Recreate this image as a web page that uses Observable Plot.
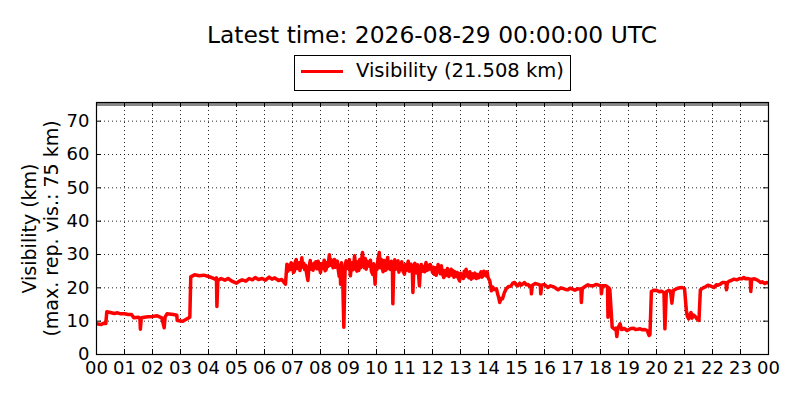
<!DOCTYPE html>
<html>
<head>
<meta charset="utf-8">
<script src="https://cdn.jsdelivr.net/npm/d3@7"></script>
<script src="https://cdn.jsdelivr.net/npm/@observablehq/plot@0.6"></script>
<style>
  html, body { margin: 0; padding: 0; background: #fff; }
  #wrap { position: relative; width: 800px; height: 400px; font-family: "DejaVu Sans", sans-serif; }
  #title { position: absolute; left: 96px; width: 672px; top: 21px; text-align: center; font-size: 23.4px; line-height: 28px; color: #000; white-space: nowrap; }
  #legend { position: absolute; left: 294px; top: 55px; width: 277px; height: 36px; box-sizing: border-box; border: 1px solid #000; background: #fff; }
  #legend .swatch { position: absolute; left: 6px; top: 13.5px; width: 42px; height: 3px; background: #ff0000; }
  #legend .lbl { position: absolute; left: 61px; top: 5px; font-size: 19.5px; line-height: 20px; white-space: nowrap; color: #000; }
  #chart { position: absolute; left: 0; top: 0; }
</style>
</head>
<body>
<div id="wrap">
  <div id="chart"></div>
  <div id="title"></div>
  <div id="legend"><span class="swatch"></span><span class="lbl"></span></div>
</div>
<script>
const titleText = "Latest time: 2026-08-29 00:00:00 UTC";
const seriesName = "Visibility (21.508 km)";
const yLabelLines = ["Visibility (km)", "(max. rep. vis.: 75 km)"];
const yTicks = [0, 10, 20, 30, 40, 50, 60, 70];
const maxReportedVis = 75;

const times = [
"00:00","00:10","00:15","00:20","00:22","00:30","00:38","00:45","00:52","01:00",
"01:08","01:15","01:20","01:30","01:33","01:34","01:36","01:50","02:00","02:10",
"02:20","02:25","02:27","02:31","02:45","02:52","02:53","03:05","03:15","03:20",
"03:22","03:30","03:40","03:50","04:00","04:08","04:14","04:17","04:18","04:20",
"04:27","04:35","04:42","04:50","05:00","05:06","05:12","05:20","05:27","05:34",
"05:40","05:47","05:55","06:02","06:10","06:16","06:22","06:30","06:37","06:42",
"06:45","06:48","06:50","06:52","06:55","06:57","07:00","07:02","07:04","07:06",
"07:08","07:10","07:12","07:14","07:16","07:18","07:20","07:22","07:24","07:26",
"07:28","07:30","07:33","07:35","07:36","07:38","07:40","07:42","07:44","07:46",
"07:48","07:50","07:52","07:55","07:57","08:00","08:02","08:04","08:06","08:08",
"08:10","08:12","08:14","08:16","08:19","08:21","08:23","08:25","08:27","08:30",
"08:32","08:34","08:36","08:38","08:40","08:42","08:43","08:45","08:48","08:50",
"08:52","08:53","08:55","08:57","09:00","09:02","09:04","09:06","09:08","09:10",
"09:13","09:15","09:18","09:20","09:22","09:24","09:26","09:28","09:30","09:32",
"09:34","09:36","09:38","09:40","09:42","09:45","09:47","09:49","09:52","09:54",
"09:57","09:59","10:01","10:03","10:06","10:08","10:10","10:12","10:14","10:16",
"10:18","10:20","10:22","10:24","10:26","10:28","10:30","10:32","10:34","10:35",
"10:37","10:39","10:41","10:43","10:46","10:48","10:50","10:52","10:54","10:57",
"11:00","11:02","11:04","11:06","11:08","11:10","11:12","11:14","11:16","11:17",
"11:18","11:20","11:22","11:24","11:26","11:28","11:30","11:32","11:34","11:36",
"11:38","11:40","11:43","11:46","11:48","11:50","11:52","11:55","11:58","12:00",
"12:02","12:04","12:06","12:08","12:10","12:12","12:15","12:17","12:19","12:21",
"12:24","12:26","12:28","12:30","12:32","12:35","12:37","12:40","12:42","12:44",
"12:46","12:48","12:50","12:53","12:55","12:58","13:00","13:02","13:04","13:06",
"13:08","13:10","13:12","13:14","13:16","13:18","13:20","13:23","13:26","13:28",
"13:31","13:34","13:37","13:39","13:41","13:44","13:46","13:48","13:50","13:52",
"13:55","13:57","13:59","14:03","14:06","14:09","14:12","14:17","14:20","14:22",
"14:24","14:27","14:30","14:34","14:38","14:43","14:48","14:52","14:56","15:00",
"15:03","15:07","15:10","15:14","15:17","15:21","15:25","15:28","15:31","15:32",
"15:34","15:40","15:45","15:51","15:52","15:54","16:00","16:07","16:13","16:20",
"16:25","16:29","16:35","16:40","16:45","16:50","16:55","17:00","17:05","17:11",
"17:18","17:19","17:21","17:27","17:33","17:39","17:45","17:50","17:54","18:01",
"18:02","18:04","18:12","18:15","18:16","18:18","18:20","18:25","18:30","18:33",
"18:35","18:37","18:42","18:45","18:51","18:57","19:05","19:11","19:15","19:20",
"19:25","19:30","19:35","19:40","19:44","19:46","19:49","19:55","20:01","20:06",
"20:10","20:16","20:18","20:21","20:26","20:30","20:33","20:36","20:41","20:46",
"20:50","20:55","21:00","21:04","21:06","21:09","21:12","21:14","21:16","21:20",
"21:23","21:27","21:31","21:34","21:40","21:45","21:50","21:55","22:03","22:08",
"22:12","22:17","22:21","22:25","22:29","22:30","22:32","22:36","22:40","22:46",
"22:52","22:58","23:03","23:07","23:11","23:15","23:21","23:22","23:24","23:30",
"23:35","23:40","23:43","23:47","23:52","23:56","24:00"
];
const values = [
9.2,9.0,9.4,9.3,12.8,12.6,12.3,12.5,12.2,12.2,
12.0,12.0,11.0,11.2,10.8,7.6,11.0,11.3,11.4,11.6,
11.0,8.0,11.2,12.2,12.0,11.8,10.2,10.0,10.8,11.2,
23.3,23.9,23.6,23.8,23.4,23.0,22.6,23.0,14.4,22.2,
22.8,22.3,22.8,22.0,21.4,22.0,22.4,22.0,22.8,22.4,
23.1,22.5,22.8,22.3,23.2,22.6,23.0,22.2,22.5,21.6,
21.1,27.1,25.0,26.8,25.5,27.5,27.0,24.6,25.0,27.8,
28.5,25.8,26.0,27.5,25.2,27.0,29.0,26.2,27.4,25.5,
26.8,24.5,22.2,25.8,26.5,28.2,25.6,27.0,25.3,27.4,
26.1,27.8,25.7,28.0,26.3,24.6,27.2,25.8,27.0,28.3,
25.1,25.5,27.6,26.4,29.9,26.8,28.4,27.5,26.0,28.5,
26.2,27.1,28.0,25.5,23.5,26.8,21.1,27.5,20.0,8.2,
22.0,27.0,28.1,25.8,26.5,28.4,23.6,26.2,27.5,25.4,
29.6,26.8,25.0,27.8,25.2,28.5,26.0,28.2,30.6,27.5,
26.0,28.8,25.6,28.0,26.5,26.6,28.3,25.0,24.0,27.2,
21.1,26.8,25.5,28.4,30.6,26.0,28.6,26.5,24.8,28.2,
27.5,25.3,27.9,29.1,25.8,27.6,25.5,28.0,27.0,15.2,
26.0,28.4,25.6,27.8,28.1,24.7,27.3,25.5,27.8,25.0,
24.1,27.0,25.3,26.5,28.0,25.0,26.8,27.1,25.5,24.0,
18.6,25.5,27.4,24.6,24.5,26.9,24.2,20.6,25.4,27.0,
25.0,26.4,24.8,27.6,25.2,26.8,25.5,27.0,26.0,24.6,
26.2,24.1,26.0,23.8,25.0,27.0,25.6,24.2,26.6,24.5,
23.1,25.2,23.6,24.5,25.8,23.4,24.0,25.6,23.8,25.1,
23.2,24.8,23.5,24.6,23.0,22.1,24.4,23.2,24.0,22.8,
25.0,23.4,25.6,23.6,24.5,23.0,24.8,22.6,24.2,23.0,
24.4,22.8,24.0,23.0,23.6,24.8,23.2,23.5,25.0,24.6,
23.6,24.8,23.1,22.0,19.1,20.2,19.5,19.7,18.0,17.0,
15.6,16.8,16.7,18.5,19.7,20.4,20.5,21.4,21.6,20.8,
20.6,21.4,20.8,21.2,21.6,20.9,21.0,20.4,20.6,18.2,
20.8,21.3,21.1,20.8,18.2,20.8,21.0,20.1,20.6,20.3,
19.8,19.4,20.0,19.8,19.5,19.4,19.9,19.6,19.3,19.7,
19.6,15.6,19.8,20.4,20.9,20.6,20.6,21.0,20.9,20.6,
18.2,20.6,20.6,20.3,11.2,20.0,19.5,8.2,7.6,7.9,
5.4,7.8,9.2,7.5,7.8,7.2,7.8,7.9,7.5,7.6,
7.7,7.4,7.5,7.2,5.7,6.0,18.9,19.3,19.2,18.8,
19.0,18.6,7.7,18.8,19.2,19.0,15.4,19.2,19.6,19.9,
20.0,20.1,19.8,13.2,11.5,10.7,12.0,12.6,10.9,11.8,
11.4,10.6,10.2,19.4,20.0,20.3,20.8,20.6,20.1,20.9,
20.8,21.1,21.6,21.6,21.5,19.4,21.6,22.0,22.2,22.6,
22.4,22.8,22.7,23.1,22.7,22.8,22.6,18.9,22.6,22.7,
22.4,22.0,21.6,21.8,21.3,21.6,21.508
];

const dayStart = new Date(Date.UTC(2026, 7, 28, 0, 0));
const dayEnd = new Date(Date.UTC(2026, 7, 29, 0, 0));
function parseT(s) {
  const [h, m] = s.split(":").map(Number);
  return new Date(Date.UTC(2026, 7, 28, h, m));
}
const n = Math.min(times.length, values.length);
const data = times.slice(0, n).map((t, i) => ({time: parseT(t), value: values[i]}));
const hourTicks = d3.utcHour.range(dayStart, new Date(+dayEnd + 1));
const fmtHour = d3.utcFormat("%H");

document.getElementById("title").textContent = titleText;
document.querySelector("#legend .lbl").textContent = seriesName;

const W = 800, H = 400, mT = 102, mB = 46, mL = 96, mR = 32;
const pw = W - mL - mR, ph = H - mT - mB;
const tick = 5;
const dotted = {stroke: "#000", strokeWidth: 1, strokeDasharray: "1,3", strokeOpacity: 0.85};

const chart = Plot.plot({
  width: W, height: H,
  marginTop: mT, marginBottom: mB, marginLeft: mL, marginRight: mR,
  style: {fontFamily: "DejaVu Sans, sans-serif", fontSize: "18px", background: "transparent", color: "#000"},
  x: {type: "utc", domain: [dayStart, dayEnd]},
  y: {domain: [0, 75.6]},
  marks: [
    Plot.ruleX(hourTicks.slice(1, -1), dotted),
    Plot.ruleY(yTicks.slice(1), dotted),
    Plot.ruleY([maxReportedVis], {stroke: "#888", strokeWidth: 3}),
    Plot.line(data, {x: "time", y: "value", stroke: "#ff0000", strokeWidth: 3.5, strokeLinejoin: "round", clip: true}),
    Plot.ruleX(hourTicks, {stroke: "#000", insetTop: ph - tick}),
    Plot.ruleX(hourTicks, {stroke: "#000", insetBottom: ph - tick}),
    Plot.ruleY(yTicks, {stroke: "#000", insetRight: pw - tick}),
    Plot.ruleY(yTicks, {stroke: "#000", insetLeft: pw - tick}),
    Plot.frame({stroke: "#000", strokeWidth: 1.2}),
    Plot.axisX({ticks: hourTicks, tickSize: 0, tickPadding: 7, tickFormat: fmtHour, label: null, fontSize: 18}),
    Plot.axisY({ticks: yTicks, tickSize: 0, tickPadding: 7, label: null, fontSize: 18}),
    Plot.text([yLabelLines.join("\n")], {frameAnchor: "left", rotate: -90, dx: -57, textAnchor: "middle", lineAnchor: "middle", lineHeight: 1.16, fontSize: 19})
  ]
});
document.getElementById("chart").appendChild(chart);
</script>
</body>
</html>
